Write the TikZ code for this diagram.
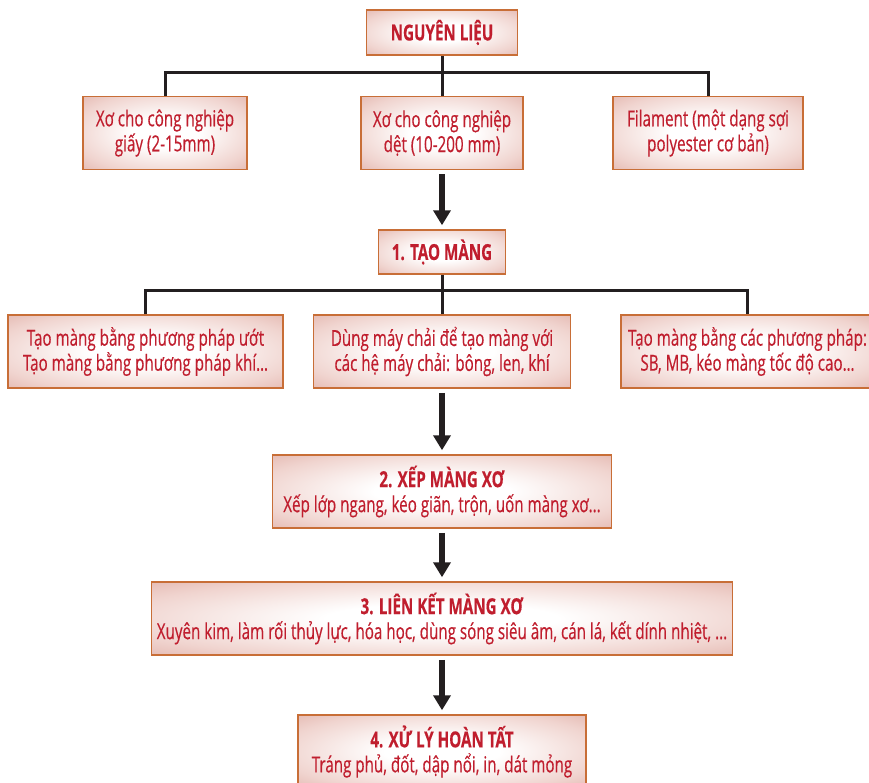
\documentclass[tikz,border=0pt]{standalone}
\usepackage{fontspec}
\usepackage{xcolor}
\usepackage{tikz}
\usetikzlibrary{arrows.meta,positioning,calc}
\newfontfamily\boxfont{Open Sans}[FakeStretch=0.69, FakeBold=0.4]
\definecolor{boxred}{RGB}{192,30,46}
\definecolor{boxedge}{RGB}{200,110,55}
\definecolor{boxfill}{RGB}{216,156,146}
\definecolor{boxmid}{RGB}{240,212,207}
\definecolor{linkgray}{RGB}{35,31,32}
\pgfdeclareradialshading{boxglow}{\pgfpoint{0bp}{0bp}}{color(0bp)=(white); color(10bp)=(white); color(28bp)=(boxmid); color(46bp)=(boxfill); color(72bp)=(boxfill!90!black)}

\begin{document}
\begin{tikzpicture}[
  x=1pt, y=-1pt,
  box/.style={rectangle, draw=boxedge, line width=1.5pt, shading=boxglow, inner sep=0pt, align=center, text=boxred, font=\boxfont\fontsize{22}{25}\selectfont},
  head/.style={box, font=\boxfont\bfseries\fontsize{22}{25}\selectfont},
  link/.style={linkgray, line width=3pt},
  flow/.style={-{Triangle[width=17pt,length=15pt]}, linkgray, line width=5.5pt, shorten <=4pt, shorten >=4pt}
]
  \useasboundingbox (0,0) rectangle (869,782);

  \node[head, minimum width=151pt, minimum height=45pt] (src) at (442,32.5) {NGUYÊN LIỆU};

  \node[box, minimum width=164pt, minimum height=73pt] (paper) at (165,133) {Xơ cho công nghiệp\\giấy (2-15mm)};
  \node[box, minimum width=162pt, minimum height=73pt] (textile) at (442,133) {Xơ cho công nghiệp\\dệt (10-200 mm)};
  \node[box, minimum width=190pt, minimum height=73pt] (filament) at (708,133) {Filament (một dạng sợi\\polyester cơ bản)};

  \node[head, minimum width=127pt, minimum height=44pt] (web) at (442,252) {1. TẠO MÀNG};

  \node[box, minimum width=275pt, minimum height=73pt] (wet) at (145.5,351.5) {Tạo màng bằng phương pháp ướt\\Tạo màng bằng phương pháp khí…};
  \node[box, minimum width=257pt, minimum height=73pt] (card) at (442,351.5) {Dùng máy chải để tạo màng với\\các hệ máy chải: bông, len, khí};
  \node[box, minimum width=253pt, minimum height=73pt] (spun) at (747.5,351.5) {Tạo màng bằng các phương pháp:\\SB, MB, kéo màng tốc độ cao…};

  \node[box, minimum width=339pt, minimum height=73pt] (lay) at (442,491.5) {\textbf{2. XẾP MÀNG XƠ}\\Xếp lớp ngang, kéo giãn, trộn, uốn màng xơ...};
  \node[box, minimum width=581pt, minimum height=73pt] (bond) at (442,618.5) {\textbf{3. LIÊN KẾT MÀNG XƠ}\\Xuyên kim, làm rối thủy lực, hóa học, dùng sóng siêu âm, cán lá, kết dính nhiệt, ...};
  \node[box, minimum width=288pt, minimum height=73pt] (finish) at (442,751.5) {\textbf{4. XỬ LÝ HOÀN TẤT}\\Tráng phủ, đốt, dập nổi, in, dát mỏng};

  % source branches
  \draw[link] (src.south) -- ++(0,17) coordinate (bus1);
  \draw[link] (paper.north) |- (bus1) -| (filament.north);
  \draw[link] (textile.north) -- (bus1);

  % web forming branches
  \draw[link] (web.south) -- ++(0,16) coordinate (bus2);
  \draw[link] (wet.north) |- (bus2) -| (spun.north);
  \draw[link] (card.north) -- (bus2);

  % main flow
  \draw[flow] (textile) -- (web);
  \draw[flow] (card) -- (lay);
  \draw[flow] (lay) -- (bond);
  \draw[flow] (bond) -- (finish);
\end{tikzpicture}
\end{document}
